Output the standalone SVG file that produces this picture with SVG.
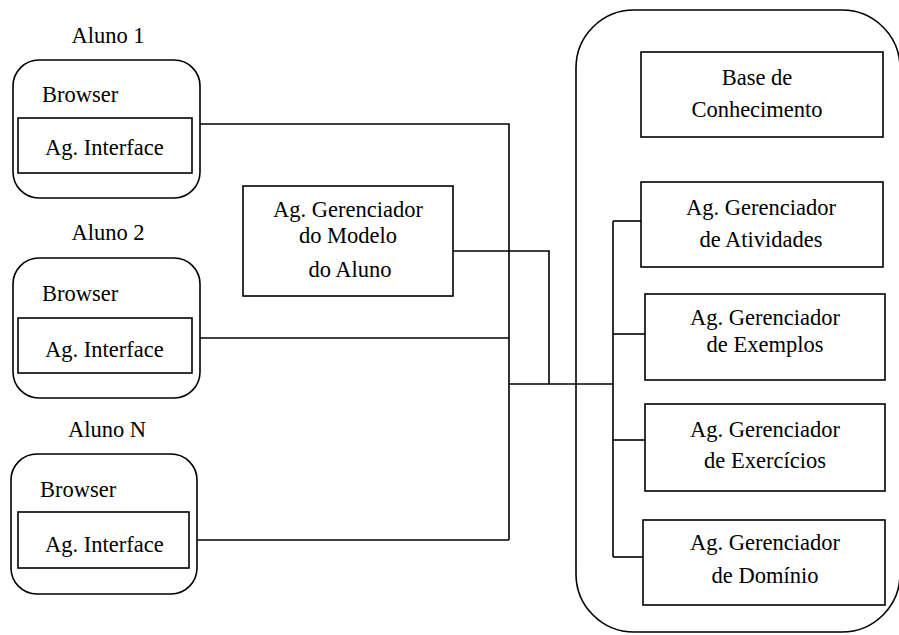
<svg xmlns="http://www.w3.org/2000/svg" width="899" height="635" viewBox="0 0 899 635" font-family="'Liberation Serif', 'Times New Roman', Times, 'DejaVu Serif', serif">
  <style>
    .box { fill: #fff; stroke: #000; stroke-width: 1.6; }
    .wire { fill: none; stroke: #000; stroke-width: 1.6; }
    text { font-size: 22.5px; fill: #000; }
    .c { text-anchor: middle; }
  </style>
  <rect width="899" height="635" fill="#fff"/>

  <!-- server container -->
  <g id="servidor">
    <rect class="box" x="576" y="10" width="324" height="622" rx="58" ry="58"/>
  </g>

  <!-- connectors -->
  <g id="conexoes">
    <polyline class="wire" points="200,124 509,124 509,540"/>
    <line class="wire" x1="200" y1="338" x2="509" y2="338"/>
    <line class="wire" x1="197" y1="540" x2="509" y2="540"/>
    <polyline class="wire" points="453,251 549,251 549,384"/>
    <line class="wire" x1="509" y1="384" x2="613" y2="384"/>
    <line class="wire" x1="613" y1="221" x2="613" y2="557"/>
    <line class="wire" x1="613" y1="221" x2="641" y2="221"/>
    <line class="wire" x1="613" y1="334" x2="645" y2="334"/>
    <line class="wire" x1="613" y1="440" x2="645" y2="440"/>
    <line class="wire" x1="613" y1="557" x2="643" y2="557"/>
  </g>

  <!-- students -->
  <g id="aluno1">
    <text class="c" x="108" y="43">Aluno 1</text>
    <rect class="box" x="13" y="60" width="187" height="138" rx="26" ry="26"/>
    <text x="42" y="102">Browser</text>
    <rect class="box" x="18" y="118" width="174" height="55"/>
    <text x="45" y="155">Ag. Interface</text>
  </g>
  <g id="aluno2">
    <text class="c" x="108" y="240">Aluno 2</text>
    <rect class="box" x="13" y="258" width="187" height="140" rx="26" ry="26"/>
    <text x="42" y="301">Browser</text>
    <rect class="box" x="18" y="318" width="174" height="55"/>
    <text x="45" y="357">Ag. Interface</text>
  </g>
  <g id="alunoN">
    <text class="c" x="107" y="437">Aluno N</text>
    <rect class="box" x="11" y="454" width="186" height="140" rx="26" ry="26"/>
    <text x="40" y="497">Browser</text>
    <rect class="box" x="18" y="512" width="171" height="56"/>
    <text x="45" y="552">Ag. Interface</text>
  </g>

  <!-- student model manager -->
  <g id="modelo-aluno">
    <rect class="box" x="243" y="186" width="210" height="110"/>
    <text class="c" x="348" y="217">Ag. Gerenciador</text>
    <text class="c" x="348" y="243">do Modelo</text>
    <text class="c" x="350" y="277">do Aluno</text>
  </g>

  <!-- server agents -->
  <g id="base-conhecimento">
    <rect class="box" x="641" y="52" width="242" height="85"/>
    <text class="c" x="757" y="85">Base de</text>
    <text class="c" x="757" y="117">Conhecimento</text>
  </g>
  <g id="atividades">
    <rect class="box" x="641" y="182" width="242" height="85"/>
    <text class="c" x="761" y="215">Ag. Gerenciador</text>
    <text class="c" x="761" y="247">de Atividades</text>
  </g>
  <g id="exemplos">
    <rect class="box" x="645" y="294" width="240" height="86"/>
    <text class="c" x="765" y="325">Ag. Gerenciador</text>
    <text class="c" x="765" y="352">de Exemplos</text>
  </g>
  <g id="exercicios">
    <rect class="box" x="645" y="404" width="240" height="87"/>
    <text class="c" x="765" y="437">Ag. Gerenciador</text>
    <text class="c" x="765" y="468">de Exercícios</text>
  </g>
  <g id="dominio">
    <rect class="box" x="643" y="520" width="242" height="85"/>
    <text class="c" x="765" y="550">Ag. Gerenciador</text>
    <text class="c" x="765" y="583">de Domínio</text>
  </g>
</svg>
